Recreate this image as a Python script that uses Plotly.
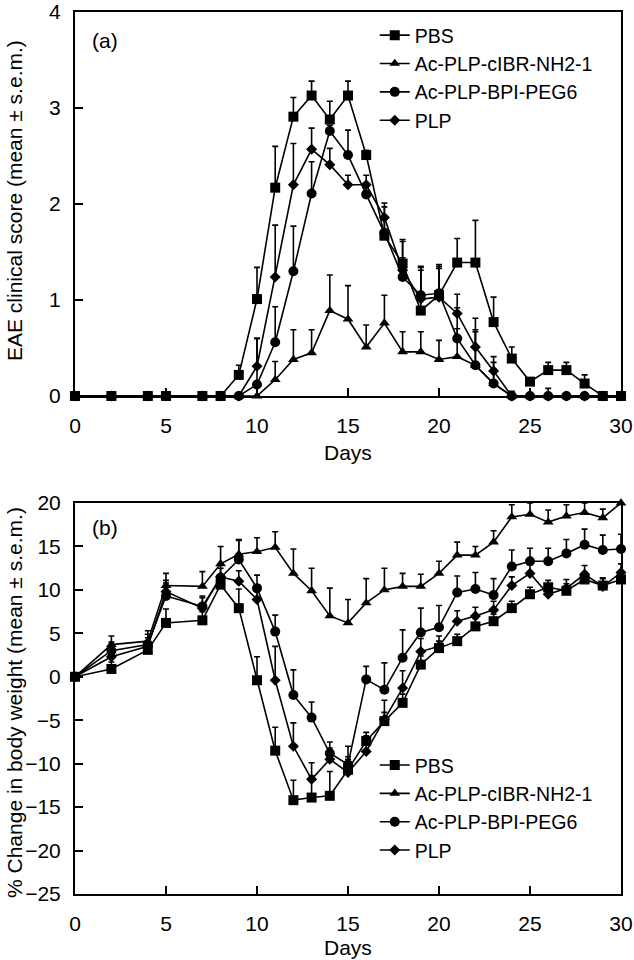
import plotly.graph_objects as go

# ---------------- data ----------------
days = [0, 2, 4, 5, 7, 8, 9, 10, 11, 12, 13, 14, 15, 16, 17, 18, 19, 20,
        21, 22, 23, 24, 25, 26, 27, 28, 29, 30]
series_names = ["PBS", "Ac-PLP-cIBR-NH2-1", "Ac-PLP-BPI-PEG6", "PLP"]

# Panel (a): EAE clinical score
score_pbs = [0, 0, 0, 0, 0, 0, 0.22, 1.01, 2.17, 2.91, 3.13, 2.88, 3.13, 2.51, 1.67, 1.38,
             0.89, 1.05, 1.39, 1.39, 0.77, 0.39, 0.15, 0.27, 0.27, 0.13, 0, 0]
score_pbs_err = [0, 0, 0, 0, 0, 0, 0.1, 0.33, 0.43, 0.2, 0.15, 0.19, 0.15, 0.05, 0.3, 0.25,
                 0.45, 0.3, 0.25, 0.44, 0.26, 0.12, 0, 0.08, 0.08, 0.09, 0, 0]
score_cibr = [0, 0, 0, 0, 0, 0, 0, 0, 0.17, 0.38, 0.45, 0.89, 0.8, 0.51, 0.76, 0.46,
              0.46, 0.38, 0.41, 0.32, 0.13, 0, 0, 0, 0, 0, 0, 0]
score_cibr_err = [0, 0, 0, 0, 0, 0, 0, 0, 0.19, 0.31, 0.24, 0.37, 0.35, 0.23, 0.29, 0.21,
                  0.21, 0.2, 0.29, 0.37, 0.22, 0, 0, 0, 0, 0, 0, 0]
score_peg = [0, 0, 0, 0, 0, 0, 0, 0.12, 0.56, 1.3, 2.11, 2.76, 2.51, 2.1, 1.7, 1.24,
             1.05, 1.07, 0.6, 0.32, 0.13, 0, 0, 0, 0, 0, 0, 0]
score_peg_err = [0, 0, 0, 0, 0, 0, 0, 0.48, 0.37, 0.47, 0.33, 0.06, 0.26, 0.1, 0.15, 0.2,
                 0.3, 0.3, 0.32, 0.35, 0.15, 0, 0, 0.08, 0, 0, 0, 0]
score_plp = [0, 0, 0, 0, 0, 0, 0, 0.31, 1.24, 2.2, 2.57, 2.41, 2.2, 2.2, 1.86, 1.31,
             1.01, 1.03, 0.86, 0.51, 0.26, 0, 0, 0, 0, 0, 0, 0]
score_plp_err = [0, 0, 0, 0, 0, 0, 0, 0.29, 0.54, 0.43, 0.22, 0.17, 0.1, 0.1, 0.15, 0.3,
                 0.3, 0.3, 0.2, 0.3, 0.15, 0.05, 0, 0, 0, 0, 0, 0]

# Panel (b): % change in body weight
wt_pbs = [0, 0.9, 3.1, 6.2, 6.5, 10.6, 7.9, -0.4, -8.5, -14.2, -13.9, -13.7, -10.7, -7.4,
          -5.1, -3.0, 1.4, 3.3, 4.1, 5.8, 6.4, 7.9, 9.5, 10.3, 9.9, 11.2, 10.5, 11.2]
wt_pbs_err = [0, 0.8, 0.9, 1.6, 1.0, 1.0, 2.2, 2.7, 2.7, 2.3, 2.5, 2.8, 1.5, 1.0,
              1.0, 1.0, 1.0, 0.8, 0.8, 0.9, 0.8, 0.8, 0.8, 0.8, 0.8, 0.8, 0.8, 0.9]
wt_cibr = [0, 3.7, 4.1, 10.5, 10.4, 13.0, 14.1, 14.4, 14.9, 11.9, 9.9, 7.0, 6.2, 8.5,
           10.0, 10.4, 10.4, 11.9, 14.0, 14.0, 15.5, 18.4, 18.7, 17.8, 18.5, 18.9, 18.3, 20.0]
wt_cibr_err = [0, 1.0, 1.2, 1.4, 1.7, 2.0, 1.7, 1.6, 1.8, 2.8, 2.6, 3.2, 2.7, 2.8,
               2.5, 1.5, 1.4, 1.4, 1.5, 1.0, 1.3, 1.4, 1.3, 1.4, 1.3, 1.1, 1.0, 0]
wt_peg = [0, 3.0, 3.7, 9.3, 8.1, 11.4, 13.5, 10.2, 5.2, -2.1, -4.7, -8.8, -10.1, -0.3,
          -1.5, 2.2, 5.1, 5.7, 9.7, 10.1, 9.4, 12.7, 13.3, 13.3, 14.2, 15.2, 14.6, 14.7]
wt_peg_err = [0, 1.0, 1.2, 1.8, 1.2, 1.5, 2.2, 1.5, 1.9, 2.9, 1.8, 1.3, 2.1, 1.5,
              3.1, 3.2, 2.8, 2.5, 1.9, 1.9, 1.9, 1.9, 1.5, 1.5, 1.6, 1.8, 1.7, 1.7]
wt_plp = [0, 2.3, 3.5, 9.8, 7.9, 11.5, 11.0, 8.9, -0.4, -8.0, -11.8, -9.5, -11.0, -8.6,
          -4.9, -1.3, 2.9, 3.5, 6.4, 7.0, 7.7, 10.5, 11.9, 9.5, 10.2, 11.8, 10.4, 12.0]
wt_plp_err = [0, 1.0, 1.0, 1.0, 1.2, 1.0, 1.2, 1.6, 3.9, 2.7, 1.9, 1.3, 1.5, 1.8,
              2.2, 2.0, 1.5, 1.2, 1.2, 1.0, 1.0, 1.0, 1.0, 1.0, 1.0, 1.0, 1.0, 1.0]

x_ticks = [0, 5, 10, 15, 20, 25, 30]
score_ticks = [0, 1, 2, 3, 4]
weight_ticks = [-25, -20, -15, -10, -5, 0, 5, 10, 15, 20]

# ---------------- styling ----------------
FONT = "Liberation Sans, Arial, sans-serif"
FS = 21
LFS = 19.5
symbols = ["square", "triangle-up", "circle", "diamond"]
sizes = [10, 9.5, 10, 8.5]

fig = go.Figure()

panel_a = [(score_pbs, score_pbs_err), (score_cibr, score_cibr_err),
           (score_peg, score_peg_err), (score_plp, score_plp_err)]
panel_b = [(wt_pbs, wt_pbs_err), (wt_cibr, wt_cibr_err),
           (wt_peg, wt_peg_err), (wt_plp, wt_plp_err)]

for i, (vals, err) in enumerate(panel_a):
    fig.add_trace(go.Scatter(
        x=days, y=vals, name=series_names[i], mode="lines+markers",
        xaxis="x", yaxis="y", legend="legend", cliponaxis=False,
        line=dict(color="black", width=1.6),
        marker=dict(symbol=symbols[i], size=sizes[i], color="black"),
        error_y=dict(type="data", symmetric=False, array=err,
                     arrayminus=[0] * len(err), color="black",
                     thickness=1.6, width=3),
    ))

for i, (vals, err) in enumerate(panel_b):
    fig.add_trace(go.Scatter(
        x=days, y=vals, name=series_names[i], mode="lines+markers",
        xaxis="x2", yaxis="y2", legend="legend2", cliponaxis=False,
        line=dict(color="black", width=1.6),
        marker=dict(symbol=symbols[i], size=sizes[i], color="black"),
        error_y=dict(type="data", symmetric=False, array=err,
                     arrayminus=[0] * len(err), color="black",
                     thickness=1.6, width=3),
    ))

axis_common = dict(
    showline=True, linecolor="black", linewidth=2, mirror=True,
    ticks="inside", ticklen=8, tickwidth=1.6, tickcolor="black",
    showgrid=False, zeroline=False, automargin=False,
    ticklabeloverflow="allow",
    tickfont=dict(family=FONT, size=FS, color="black"),
)

# plot area: x 75..621, y 12..894 (height 882)
fig.update_layout(
    width=634, height=960,
    margin=dict(l=75, r=13, t=12, b=66, autoexpand=False),
    paper_bgcolor="white", plot_bgcolor="white",
    font=dict(family=FONT, size=FS, color="black"),
    xaxis=dict(domain=[0, 1], anchor="y", range=[0, 30], tickvals=x_ticks,
               ticklabelstandoff=10, **axis_common),
    yaxis=dict(domain=[0.5646, 1], anchor="x", range=[0, 4], tickvals=score_ticks,
               ticklabelstandoff=8, **axis_common),
    xaxis2=dict(domain=[0, 1], anchor="y2", range=[0, 30], tickvals=x_ticks,
                ticklabelstandoff=10, **axis_common),
    yaxis2=dict(domain=[0, 0.4433], anchor="x2", range=[-25, 20], tickvals=weight_ticks,
                ticklabelstandoff=8, **axis_common),
    legend=dict(x=0.549, y=0.9955, xanchor="left", yanchor="top",
                bgcolor="rgba(0,0,0,0)", font=dict(family=FONT, size=LFS, color="black")),
    legend2=dict(x=0.549, y=0.168, xanchor="left", yanchor="top",
                 bgcolor="rgba(0,0,0,0)", font=dict(family=FONT, size=LFS, color="black")),
    showlegend=True,
)

H = 882.0
annots = [
    dict(text="(a)", x=0.055, y=(894 - 40) / H, xref="paper", yref="paper",
         showarrow=False, xanchor="center", yanchor="middle"),
    dict(text="(b)", x=0.055, y=(894 - 527) / H, xref="paper", yref="paper",
         showarrow=False, xanchor="center", yanchor="middle"),
    dict(text="EAE clinical score (mean ± s.e.m.)", textangle=-90,
         x=(14 - 75) / 546, y=(894 - 201) / H, xref="paper", yref="paper",
         showarrow=False, xanchor="center", yanchor="middle"),
    dict(text="% Change in body weight (mean ± s.e.m.)", textangle=-90,
         x=(14 - 75) / 546, y=(894 - 703) / H, xref="paper", yref="paper",
         showarrow=False, xanchor="center", yanchor="middle"),
    dict(text="Days", x=0.5, y=(894 - 452) / H, xref="paper", yref="paper",
         showarrow=False, xanchor="center", yanchor="middle"),
    dict(text="Days", x=0.5, y=(894 - 947) / H, xref="paper", yref="paper",
         showarrow=False, xanchor="center", yanchor="middle"),
]
fig.update_layout(annotations=[dict(a, font=dict(family=FONT, size=FS, color="black"))
                               for a in annots])

fig.write_html(
    "out.html",
    config={"displayModeBar": False},
    post_script="document.body.style.margin='0px';document.body.style.padding='0px';",
)
